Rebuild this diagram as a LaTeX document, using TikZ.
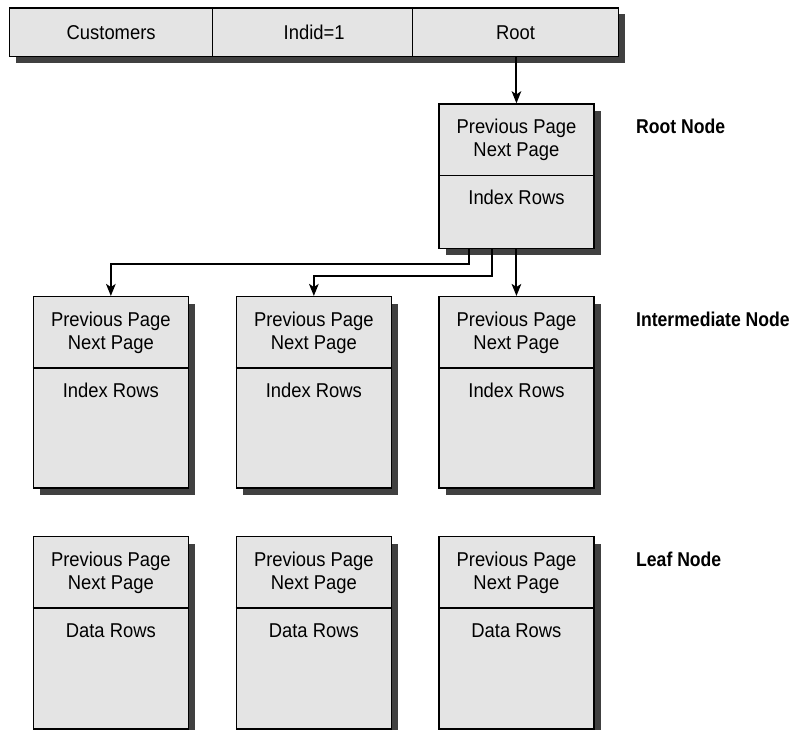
\documentclass[tikz,border=0pt]{standalone}
\usepackage{fontspec}
\setmainfont{Liberation Sans}[FakeStretch=0.92, BoldFeatures={FakeStretch=0.88}]
\usetikzlibrary{arrows.meta,shadows}
\definecolor{boxfill}{HTML}{E4E4E4}
\definecolor{shadowc}{HTML}{404040}
\tikzset{
  fnt/.style={font=\fontsize{20}{23}\selectfont},
  page/.style={draw=black, line width=1.3pt, fill=boxfill, anchor=north west, inner sep=0pt,
    minimum width=155pt,
    drop shadow={shadow xshift=7pt, shadow yshift=-7pt, fill=shadowc, opacity=1}},
  cell/.style={draw=black, line width=1.3pt, fill=boxfill, anchor=north west, inner sep=0pt,
    minimum width=203pt, minimum height=48.4pt, text height=14.3pt, text depth=0pt, fnt},
  txt/.style={anchor=base, inner sep=0pt, fnt},
  lbl/.style={anchor=base west, inner sep=0pt, fnt, font=\fontsize{20}{23}\selectfont\bfseries},
  divider/.style={line width=1.3pt},
  conn/.style={line width=2pt, -{Stealth[length=12pt,width=9.5pt,inset=3pt]}},
}
\begin{document}
\begin{tikzpicture}[x=1pt,y=-1pt]
\useasboundingbox (0,0) rectangle (798,730);
% top bar
\fill[shadowc] (16,14.3) rectangle (624.7,62.7);
\node[cell] (cust) at (9,7.3) {Customers};
\node[cell] (indid) at (212,7.3) {Indid=1};
\node[cell, minimum width=205.7pt] (rootcell) at (412,7.3) {Root};
% pages
\node[page, minimum height=144.4pt] (root) at (438.3,103.3) {};
\node[page, minimum height=191.3pt] (i1) at (32.7,296) {};
\node[page, minimum height=191.3pt] (i2) at (235.7,296) {};
\node[page, minimum height=191.3pt] (i3) at (438.3,296) {};
\node[page, minimum height=192.3pt] (l1) at (32.7,536) {};
\node[page, minimum height=192.3pt] (l2) at (235.7,536) {};
\node[page, minimum height=192.3pt] (l3) at (438.3,536) {};
\foreach \n/\body in {root/Index Rows, i1/Index Rows, i2/Index Rows, i3/Index Rows,
                      l1/Data Rows, l2/Data Rows, l3/Data Rows}{
  \draw[divider] ([yshift=-72pt]\n.north west) -- ([yshift=-72pt]\n.north east);
  \node[txt] (\n-prev) at ([yshift=-30pt]\n.north) {Previous Page};
  \node[txt] (\n-next) at ([yshift=-53pt]\n.north) {Next Page};
  \node[txt] (\n-body) at ([yshift=-101.3pt]\n.north) {\body};
}
% labels
\node[lbl] (lroot) at (636,133.5) {Root Node};
\node[lbl] (linter) at (636,326) {Intermediate Node};
\node[lbl] (lleaf) at (636,566) {Leaf Node};
% connectors
\draw[conn] (rootcell.south -| root.north) -- (root.north);
\draw[conn] (root.south) -- (i3.north);
\draw[conn] ([xshift=-47.5pt]root.south) -- ++(0,15) -| (i1.north);
\draw[conn] ([xshift=-24pt]root.south) -- ++(0,26.8) -| (i2.north);
\end{tikzpicture}
\end{document}
